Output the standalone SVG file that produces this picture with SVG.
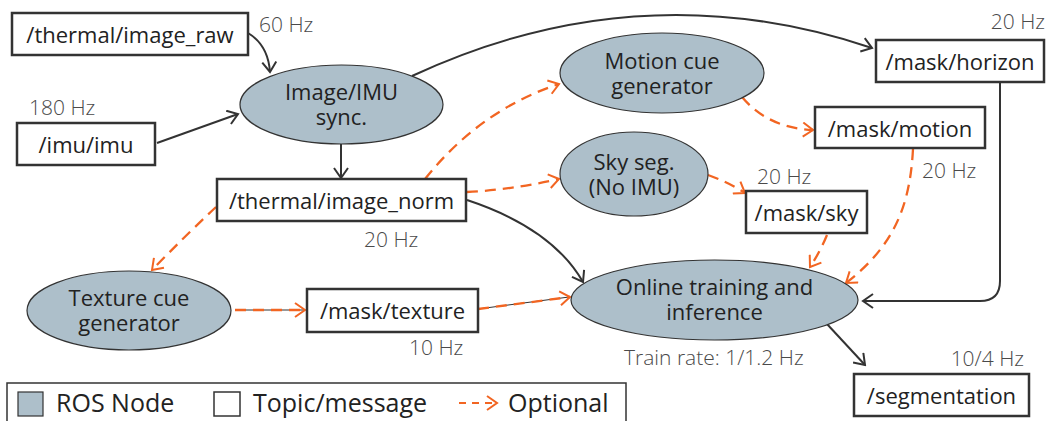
<svg xmlns="http://www.w3.org/2000/svg" width="1048" height="421" viewBox="0 0 1048 421">
<defs>
<style>
.topic{fill:#fff;stroke:#333;stroke-width:2.5}
.node{fill:#adbfca;stroke:#333;stroke-width:1.2}
.lbl{font-family:"Open Sans","Noto Sans",sans-serif;font-size:22px;fill:#222;text-anchor:middle}
.hz{font-family:"Open Sans","Noto Sans",sans-serif;font-size:21px;fill:#4a4a4a;font-weight:300}
.leg{font-family:"Open Sans","Noto Sans",sans-serif;font-size:25px;fill:#222}
.solid{fill:none;stroke:#333;stroke-width:2}
.thin{fill:none;stroke:#333;stroke-width:1}
.opt{fill:none;stroke:#f26522;stroke-width:2.3;stroke-dasharray:11 7}
</style>
<marker id="ah" viewBox="-12 -8 14 16" refX="0" refY="0" markerWidth="14" markerHeight="16" markerUnits="userSpaceOnUse" orient="auto">
<path d="M-10,-7 L0,0 L-10,7" fill="none" stroke="#333" stroke-width="2"/>
</marker>
<marker id="ao" viewBox="-12 -8 14 16" refX="0" refY="0" markerWidth="14" markerHeight="16" markerUnits="userSpaceOnUse" orient="auto">
<path d="M-10,-7 L0,0 L-10,7" fill="none" stroke="#f26522" stroke-width="2"/>
</marker>
</defs>
<rect width="1048" height="421" fill="#fff"/>

<g id="connectors">
<path class="solid" d="M248,33 Q268,45 270,72" marker-end="url(#ah)"/>
<path class="solid" d="M157,143 L238,114" marker-end="url(#ah)"/>
<path class="solid" d="M341,144 L341,178" marker-end="url(#ah)"/>
<path class="solid" d="M412,76 Q640,-30 872,48" marker-end="url(#ah)"/>
<path class="solid" d="M467,200 Q552,228 583,282" marker-end="url(#ah)"/>
<path class="solid" d="M1000,82 L1000,281 Q1000,301 980,301 L863,301" marker-end="url(#ah)"/>
<path class="solid" d="M827,324 L865,365" marker-end="url(#ah)"/>
<path class="opt" d="M425,179 Q480,110 559,84" marker-end="url(#ao)"/>
<path class="opt" d="M467,192 Q510,190 559,179" marker-end="url(#ao)"/>
<path class="opt" d="M216,207 Q185,236 152,270" marker-end="url(#ao)"/>
<path class="opt" d="M742,97 Q768,128 813,130" marker-end="url(#ao)"/>
<path class="opt" d="M708,175 Q728,182 745,193" marker-end="url(#ao)"/>
<path class="opt" d="M827,235 Q820,252 810,267" marker-end="url(#ao)"/>
<path class="opt" d="M913,149 C910,205 895,245 846,283" marker-end="url(#ao)"/>
<path class="thin" d="M235,310 L304,310"/>
<path class="opt" d="M235,310 L305,310" marker-end="url(#ao)"/>
<path class="thin" d="M478,309 L569,297"/>
<path class="opt" d="M478,309 L570,297" marker-end="url(#ao)"/>
</g>

<g id="raw"><rect class="topic" x="12" y="13" width="236" height="42"/><text class="lbl" x="130" y="43">/thermal/image_raw</text></g>
<g id="imu"><rect class="topic" x="17" y="123" width="138" height="42"/><text class="lbl" x="86" y="153">/imu/imu</text></g>
<g id="sync"><ellipse class="node" cx="341.5" cy="104.5" rx="101.5" ry="39.5"/><text class="lbl" x="341.5" y="100">Image/IMU</text><text class="lbl" x="341.5" y="125">sync.</text></g>
<g id="norm"><rect class="topic" x="217" y="179" width="249" height="42"/><text class="lbl" x="341.5" y="209">/thermal/image_norm</text></g>
<g id="motioncue"><ellipse class="node" cx="662" cy="73" rx="102" ry="40"/><text class="lbl" x="662" y="69">Motion cue</text><text class="lbl" x="662" y="94">generator</text></g>
<g id="skyseg"><ellipse class="node" cx="634" cy="174" rx="74" ry="42"/><text class="lbl" x="634" y="170">Sky seg.</text><text class="lbl" x="634" y="195">(No IMU)</text></g>
<g id="horizon"><rect class="topic" x="876" y="40" width="168" height="42"/><text class="lbl" x="960" y="70">/mask/horizon</text></g>
<g id="maskmotion"><rect class="topic" x="815" y="107" width="170" height="41"/><text class="lbl" x="900" y="137">/mask/motion</text></g>
<g id="masksky"><rect class="topic" x="746" y="191" width="121" height="42"/><text class="lbl" x="806.5" y="221">/mask/sky</text></g>
<g id="texturecue"><ellipse class="node" cx="129" cy="310.5" rx="102" ry="39.5"/><text class="lbl" x="129" y="306">Texture cue</text><text class="lbl" x="129" y="331">generator</text></g>
<g id="masktexture"><rect class="topic" x="307" y="289" width="171" height="43"/><text class="lbl" x="392.5" y="319">/mask/texture</text></g>
<g id="online"><ellipse class="node" cx="714.5" cy="300" rx="143.5" ry="40"/><text class="lbl" x="714.5" y="295">Online training and</text><text class="lbl" x="714.5" y="320">inference</text></g>
<g id="segmentation"><rect class="topic" x="854" y="374" width="175" height="42"/><text class="lbl" x="941.5" y="404">/segmentation</text></g>

<g id="rates">
<text class="hz" x="259" y="32">60 Hz</text>
<text class="hz" x="29" y="115">180 Hz</text>
<text class="hz" x="1045" y="29" text-anchor="end">20 Hz</text>
<text class="hz" x="922" y="178">20 Hz</text>
<text class="hz" x="757" y="184">20 Hz</text>
<text class="hz" x="364" y="247">20 Hz</text>
<text class="hz" x="409" y="355">10 Hz</text>
<text class="hz" x="624" y="365">Train rate: 1/1.2 Hz</text>
<text class="hz" x="1024" y="366" text-anchor="end">10/4 Hz</text>
</g>

<g id="legend">
<rect x="7" y="383" width="619" height="45" fill="#fff" stroke="#333" stroke-width="1.5"/>
<rect class="node" x="18" y="392" width="25" height="24" stroke-width="1.5"/>
<text class="leg" x="56" y="412">ROS Node</text>
<rect x="214" y="392" width="26" height="24" fill="#fff" stroke="#333" stroke-width="1.5"/>
<text class="leg" x="253" y="412">Topic/message</text>
<path d="M459,403 L497,403" fill="none" stroke="#f26522" stroke-width="2" stroke-dasharray="7 6" marker-end="url(#ao)"/>
<text class="leg" x="508" y="412">Optional</text>
</g>
</svg>
